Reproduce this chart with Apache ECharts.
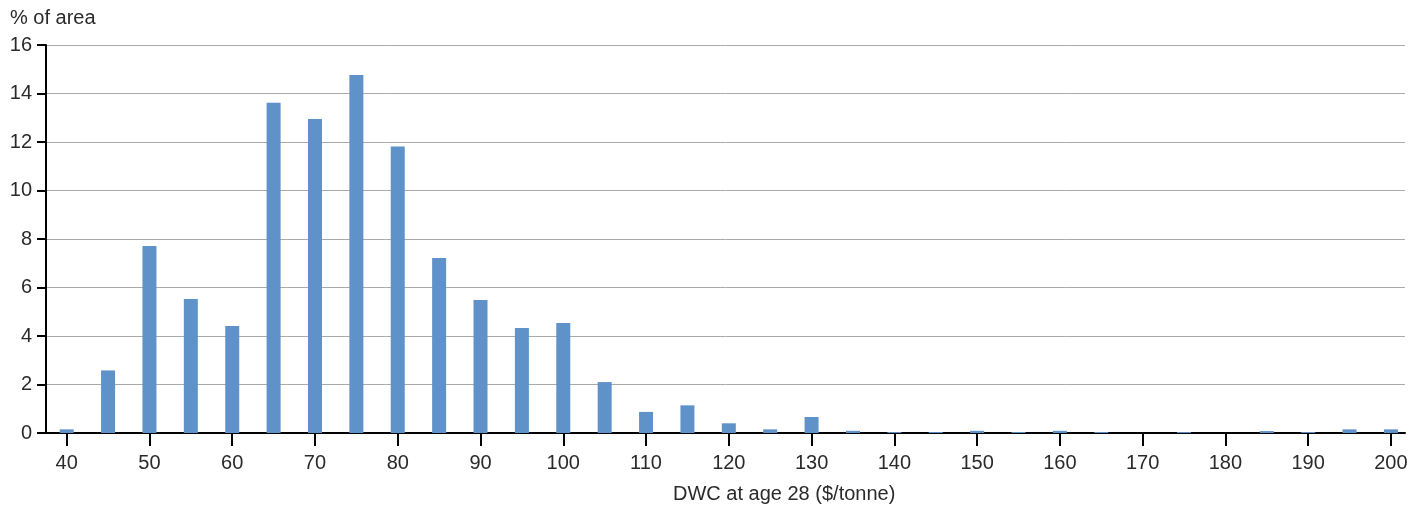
<!DOCTYPE html>
<html><head><meta charset="utf-8">
<script src="https://cdn.jsdelivr.net/npm/echarts@6/dist/echarts.min.js"></script>
<style>html,body{margin:0;padding:0;background:#fff}#c{width:1417px;height:506px}</style>
</head><body><div id="c"></div>
<script>
const categories = [40,45,50,55,60,65,70,75,80,85,90,95,100,105,110,115,120,125,130,135,140,145,150,155,160,165,170,175,180,185,190,195,200];
const values = [0.15,2.58,7.71,5.53,4.41,13.62,12.95,14.76,11.81,7.22,5.48,4.33,4.54,2.1,0.87,1.14,0.4,0.15,0.66,0.09,0.04,0.04,0.09,0.04,0.09,0.04,0,0.04,0,0.08,0.04,0.15,0.15];
const xTicks = [40,50,60,70,80,90,100,110,120,130,140,150,160,170,180,190,200];
const yTitle = '% of area';
const xTitle = 'DWC at age 28 ($/tonne)';

const font = '"Liberation Sans", Arial, sans-serif';
const chart = echarts.init(document.getElementById('c'));
chart.setOption({
  animation: false,
  textStyle: {fontFamily: font},
  grid: {left: 46, right: 12, top: 45, bottom: 73, containLabel: false},
  title: {text: yTitle, left: 10, top: 8, padding: 0, textStyle: {fontFamily: font, fontSize: 20, fontWeight: 'normal', color: '#2a2a2a'}},
  graphic: [{type: 'text', left: 673, top: 484, style: {text: xTitle, font: '20px ' + font, fill: '#2a2a2a'}}],
  xAxis: {
    type: 'value', min: 37.5, max: 201.7,
    axisLine: {show: true, onZero: false, lineStyle: {color: '#000', width: 2}},
    axisTick: {show: true, length: 13, lineStyle: {color: '#000', width: 2}, customValues: xTicks},
    axisLabel: {fontSize: 20, color: '#2a2a2a', margin: 20, customValues: xTicks, fontFamily: font},
    splitLine: {show: false}
  },
  yAxis: {
    type: 'value', min: 0, max: 16, interval: 2,
    axisLine: {show: true, lineStyle: {color: '#000', width: 2}},
    axisTick: {show: true, length: 9, lineStyle: {color: '#000', width: 2}},
    axisLabel: {fontSize: 20, color: '#2a2a2a', margin: 14, fontFamily: font},
    splitLine: {show: true, lineStyle: {color: '#aaa', width: 1}}
  },
  series: [{
    type: 'bar', barWidth: 14,
    data: categories.map((c, i) => [c, values[i]]),
    itemStyle: {color: '#5e92c8'}
  }]
});
</script></body></html>
